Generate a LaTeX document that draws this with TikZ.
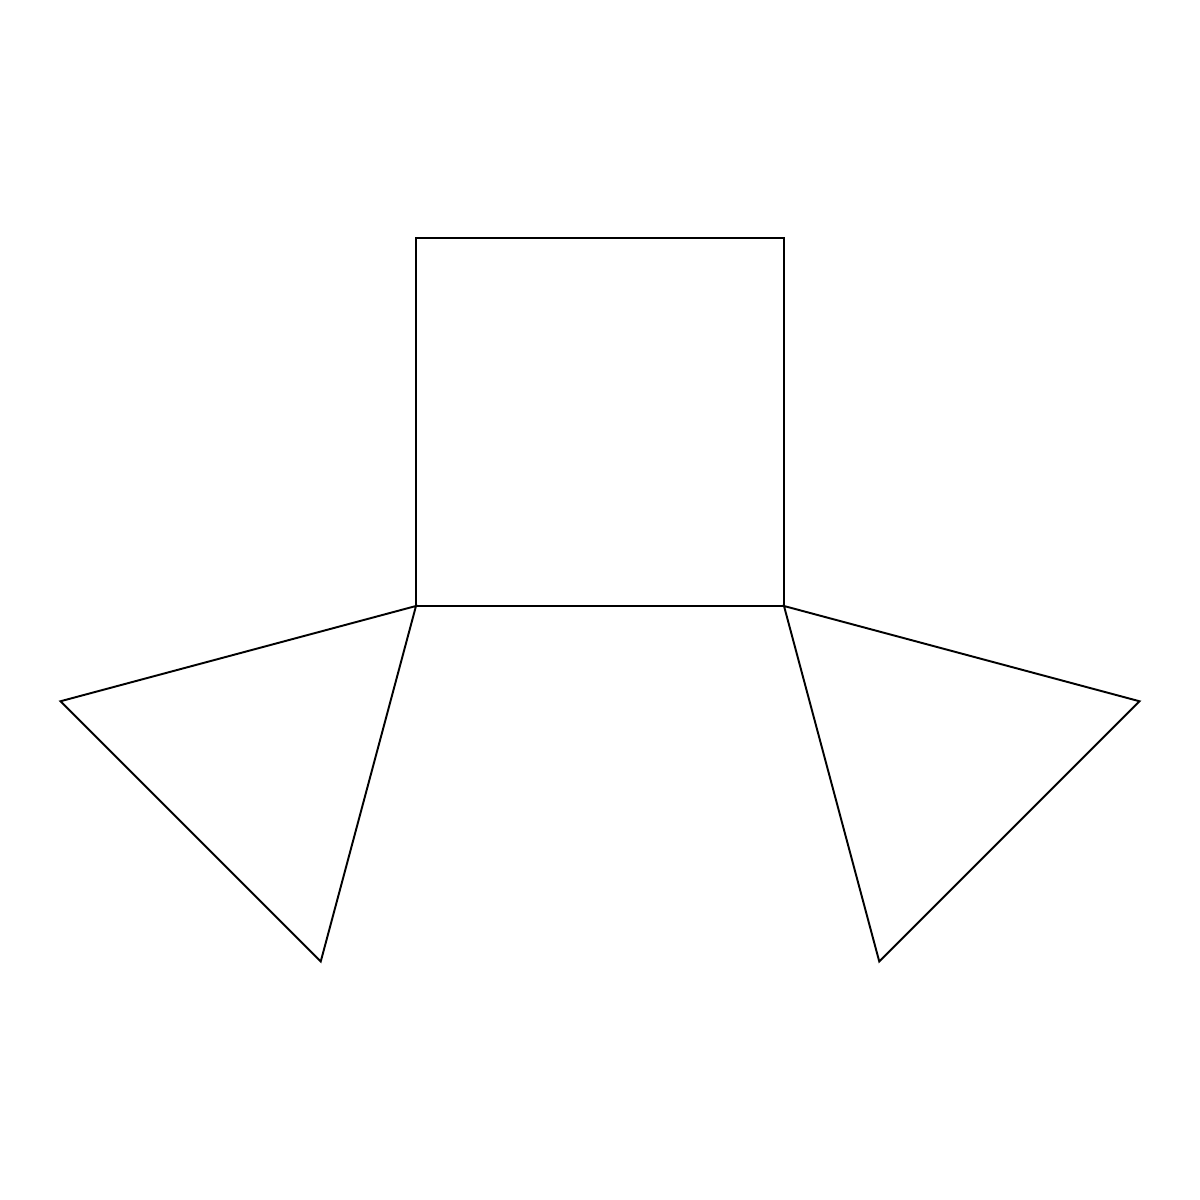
\documentclass[tikz,border=0pt]{standalone}
\usepackage{tikz}
\usetikzlibrary{calc}

\begin{document}
\begin{tikzpicture}[edge/.style={line width=0.55pt, line join=miter}]

	% page frame, keeps the margins of the square page
	\useasboundingbox (0,0) rectangle (12,12);

	% the square: bottom corners first
	\coordinate (SqBL) at (4.16,5.94);
	\coordinate (SqBR) at (7.84,5.94);
	\coordinate (SqTR) at (7.84,9.62);
	\coordinate (SqTL) at (4.16,9.62);

	% the two triangles hang from the bottom corners,
	% their far corners given in polar form from those corners
	\coordinate (L1) at ($(SqBL)+(195:3.68cm)$);
	\coordinate (L2) at ($(SqBL)+(255:3.68cm)$);
	\coordinate (R1) at ($(SqBR)+(345:3.68cm)$);
	\coordinate (R2) at ($(SqBR)+(285:3.68cm)$);

	%%%%%%%%%%%%%%%%%%%%%%%%%%%%%%%%%%%%%%%%%%%%%%%%%%%%%%%%%%%%%%
	\draw[edge] (SqBL) -- (SqBR) -- (SqTR) -- (SqTL) -- cycle;

	\draw[edge] (SqBL) -- (L1) -- (L2) -- cycle;

	\draw[edge] (SqBR) -- (R1) -- (R2) -- cycle;

\end{tikzpicture}
\end{document}
